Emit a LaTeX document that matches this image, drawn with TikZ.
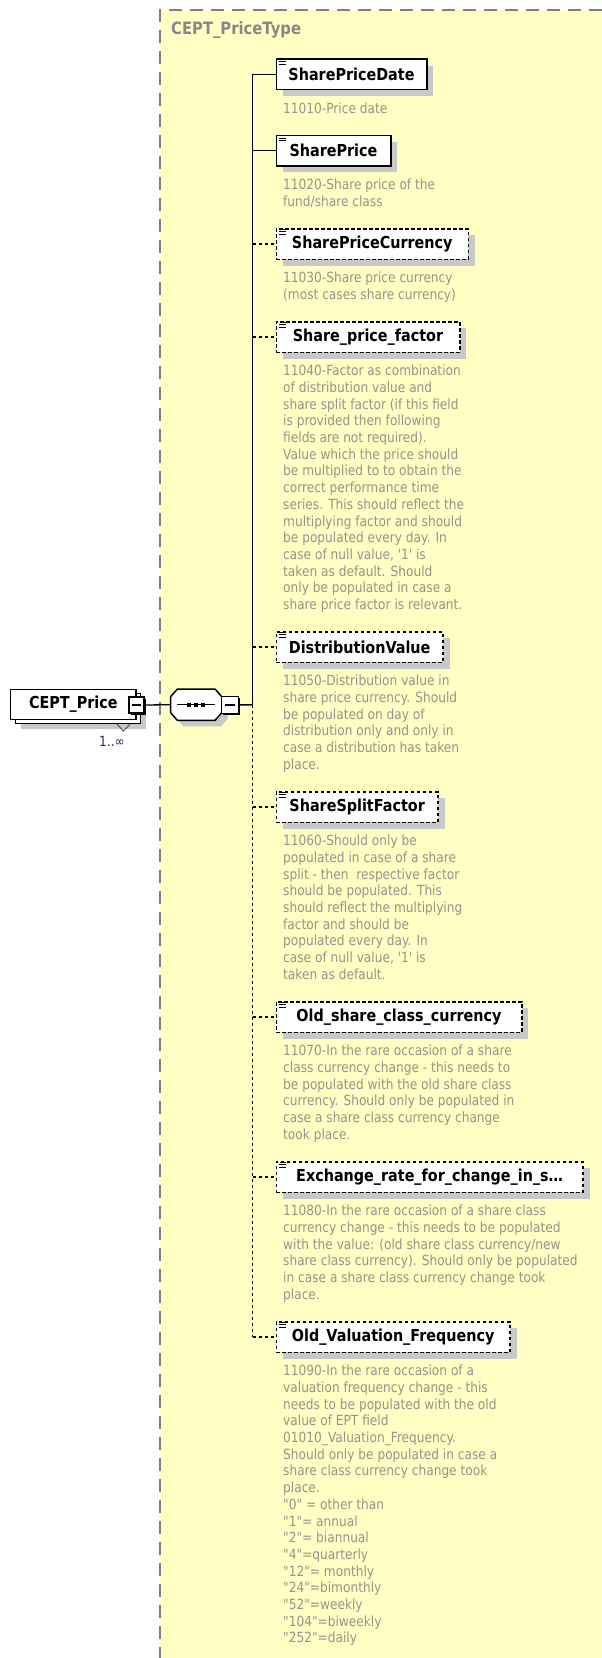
\documentclass[tikz,border=0pt]{standalone}
\usepackage{fontspec}
\setmainfont{DejaVu Sans}[FakeStretch=0.87,Ligatures=TeXOff]
\usetikzlibrary{shadows}

\definecolor{typefill}{RGB}{255,255,196}
\definecolor{typeframe}{RGB}{128,128,128}
\definecolor{typetitle}{RGB}{135,135,135}
\definecolor{doctext}{RGB}{148,148,140}
\definecolor{shadegray}{RGB}{200,200,200}
\definecolor{occurtext}{RGB}{35,45,110}

\newcommand{\docstrut}{\rule{0pt}{11pt}}

\begin{document}
\begin{tikzpicture}[x=1pt,y=-1pt]
% Define styles
\tikzset{
    title/.style={font=\fontsize{17}{20}\selectfont\bfseries, text=typetitle, anchor=west, inner sep=0pt},
    elem/.style={rectangle, draw=black, line width=1.5pt, fill=white, anchor=west,
        minimum height=30.5pt, inner sep=0pt, font=\fontsize{16.5}{19}\selectfont\bfseries,
        drop shadow={shadow xshift=6.5pt, shadow yshift=-6.5pt, fill=shadegray, opacity=1}},
    optelem/.style={elem, dash pattern=on 3.5pt off 2.5pt},
    rootbox/.style={rectangle, draw=black, line width=1.3pt, fill=white,
        minimum width=125.3pt, minimum height=30pt, inner sep=0pt, font=\fontsize{16.5}{19}\selectfont\bfseries,
        drop shadow={shadow xshift=10.5pt, shadow yshift=-10pt, fill=shadegray, opacity=1},
        copy shadow={shadow xshift=4.5pt, shadow yshift=-4.5pt}},
    doc/.style={anchor=north west, align=left, inner sep=0pt, text=doctext, font=\fontsize{14}{16.7}\selectfont},
    conn/.style={line width=1.5pt},
    optconn/.style={conn, dash pattern=on 3pt off 3pt},
    expander/.style={rectangle, draw=black, line width=1.2pt, fill=white,
        minimum width=15pt, minimum height=16pt, inner sep=0pt,
        drop shadow={shadow xshift=1.5pt, shadow yshift=-1.5pt, fill=black, opacity=1},
        path picture={\draw[line width=1.2pt] ([xshift=3pt]path picture bounding box.west) -- ([xshift=-3pt]path picture bounding box.east);}}
}

\useasboundingbox (0,0) rectangle (602,1658);

% Complex type frame
\fill[typefill] (160,10) rectangle (602,1658);
\draw[typeframe, line width=1.6pt, dash pattern=on 13pt off 8pt] (602,10) -- (160,10) -- (160,1658);
\node[title] (typename) at (171,30) {CEPT\_PriceType};

% Tree lines
\coordinate (fork) at (252.7,704.7);

% Child elements
\foreach \id/\y/\w/\kind/\lbl in {
    pdate/74.3/150.5/elem/SharePriceDate,
    price/150.6/114.5/elem/SharePrice,
    pcurr/244/192/optelem/SharePriceCurrency,
    pfactor/337/183.5/optelem/Share\_price\_factor,
    distval/647/166.8/optelem/DistributionValue,
    splitf/807/161.8/optelem/ShareSplitFactor,
    oldcurr/1017/245.5/optelem/Old\_share\_class\_currency,
    xrate/1177/306.8/optelem/Exchange\_rate\_for\_change\_in\_s\ldots,
    oldfreq/1337/233.8/optelem/Old\_Valuation\_Frequency} {
    \node[\kind, minimum width=\w] (\id) at (275.5,\y) {\lbl};
    % list icon
    \foreach \dy/\dx in {1/4.5, 3.5/3, 6/3}
        \draw[line width=1pt] ([xshift=\dx pt, yshift=-\dy pt]\id.north west) -- ([xshift=10pt, yshift=-\dy pt]\id.north west);
}

% Connectors to the children
\draw[conn] (fork) -- (fork |- pdate.west);
\draw[optconn] (fork) -- (fork |- oldfreq.west);
\foreach \id/\kind in {pdate/conn, price/conn, pcurr/optconn, pfactor/optconn, distval/optconn,
    splitf/optconn, oldcurr/optconn, xrate/optconn, oldfreq/optconn}
    \draw[\kind] (fork |- \id.west) -- (\id.west);

% Documentation
\node[doc] (pdatedoc) at ([xshift=7.5pt, yshift=-11.5pt]pdate.south west) {\docstrut 11010-Price date};
\node[doc] (pricedoc) at ([xshift=7.5pt, yshift=-11.5pt]price.south west) {\docstrut 11020-Share price of the\\fund/share class};
\node[doc] (pcurrdoc) at ([xshift=7.5pt, yshift=-11.5pt]pcurr.south west) {\docstrut 11030-Share price currency\\(most cases share currency)};
\node[doc] (pfactordoc) at ([xshift=7.5pt, yshift=-11.5pt]pfactor.south west) {\docstrut 11040-Factor as combination\\of distribution value and\\share split factor (if this field\\is provided then following\\fields are not required).\\Value which the price should\\be multiplied to to obtain the\\correct performance time\\series. This should reflect the\\multiplying factor and should\\be populated every day. In\\case of null value, '1' is\\taken as default. Should\\only be populated in case a\\share price factor is relevant.};
\node[doc] (distvaldoc) at ([xshift=7.5pt, yshift=-11.5pt]distval.south west) {\docstrut 11050-Distribution value in\\share price currency. Should\\be populated on day of\\distribution only and only in\\case a distribution has taken\\place.};
\node[doc] (splitfdoc) at ([xshift=7.5pt, yshift=-11.5pt]splitf.south west) {\docstrut 11060-Should only be\\populated in case of a share\\split - then \ respective factor\\should be populated. This\\should reflect the multiplying\\factor and should be\\populated every day. In\\case of null value, '1' is\\taken as default.};
\node[doc] (oldcurrdoc) at ([xshift=7.5pt, yshift=-11.5pt]oldcurr.south west) {\docstrut 11070-In the rare occasion of a share\\class currency change - this needs to\\be populated with the old share class\\currency. Should only be populated in\\case a share class currency change\\took place.};
\node[doc] (xratedoc) at ([xshift=7.5pt, yshift=-11.5pt]xrate.south west) {\docstrut 11080-In the rare occasion of a share class\\currency change - this needs to be populated\\with the value: (old share class currency/new\\share class currency). Should only be populated\\in case a share class currency change took\\place.};
\node[doc] (oldfreqdoc) at ([xshift=7.5pt, yshift=-11.5pt]oldfreq.south west) {\docstrut 11090-In the rare occasion of a\\valuation frequency change - this\\needs to be populated with the old\\value of EPT field\\01010\_Valuation\_Frequency.\\Should only be populated in case a\\share class currency change took\\place.\\"0" = other than\\"1"= annual\\"2"= biannual\\"4"=quarterly\\"12"= monthly\\"24"=bimonthly\\"52"=weekly\\"104"=biweekly\\"252"=daily};

% Sequence compositor
\node[minimum width=51pt, minimum height=30.7pt, inner sep=0pt] (seq) at (196.2,704.7) {};
\draw[line width=1.5pt, fill=white, drop shadow={shadow xshift=6pt, shadow yshift=-6pt, fill=shadegray, opacity=1}]
    ([yshift=-7.7pt]seq.north west) -- ([xshift=6.8pt]seq.north west) -- ([xshift=-6.8pt]seq.north east)
    -- ([yshift=-7.7pt]seq.north east) -- ([yshift=7.7pt]seq.south east) -- ([xshift=-6.8pt]seq.south east)
    -- ([xshift=6.8pt]seq.south west) -- ([yshift=7.7pt]seq.south west) -- cycle;
\draw[line width=1.2pt] ([xshift=6.5pt]seq.west) -- ([xshift=-6.5pt]seq.east);
\foreach \dx in {-7.2, 0, 7.2}
    \fill ([xshift=\dx pt]seq.center) +(-2,-2) rectangle +(2,2);
\node[expander, minimum width=16.5pt, minimum height=16.5pt] (seqminus) at (230,705) {};

% Root element
\node[rootbox] (root) at (73.3,704.3) {CEPT\_Price};
\node[expander] (rootminus) at (136.5,705) {};
\draw[line width=0.9pt, gray!60!black] (117,724.2) -- (123.5,731) -- (130,724.2);
\node[text=occurtext, font=\fontsize{14}{16}\selectfont, inner sep=0pt] (rootoccurs) at (112,741) {1..∞};

% Connectors
\draw[conn, line width=1.3pt] (rootminus.east) -- (seq.west);
\draw[conn] (seqminus.east) -- (fork);

\end{tikzpicture}
\end{document}
